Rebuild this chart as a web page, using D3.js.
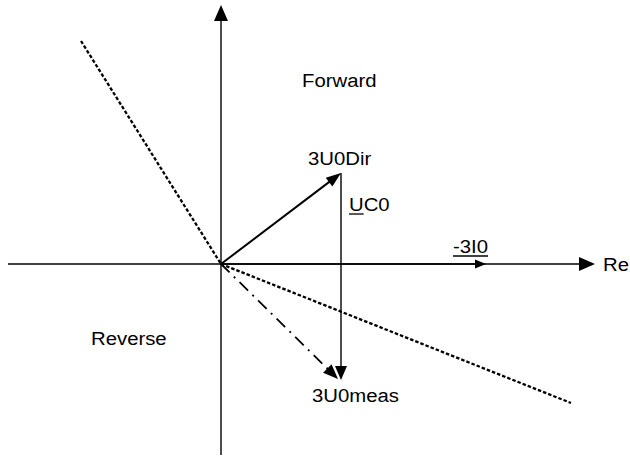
<!DOCTYPE html>
<html><head><meta charset="utf-8">
<script src="https://cdn.jsdelivr.net/npm/d3@7"></script>
<style>html,body{margin:0;padding:0;background:#fff}</style>
</head><body>
<svg id="c" width="630" height="458"></svg>
<script>
// Phasor data (units; 1 unit ≈ 100 px)
const axisX = [-2.13, 3.74];          // Re axis extent
const axisY = [-1.91, 2.59];          // Im axis extent
const U0Dir = [1.20, 0.91];           // 3U0Dir phasor
const U0meas = [1.20, -1.16];         // 3U0meas phasor
const I0neg = [2.65, 0];              // -3I0 phasor
const boundaryA = [-1.40, 2.23];      // characteristic line, upper-left end
const boundaryB = [3.50, -1.39];      // characteristic line, lower-right end
const labels = [
  {text: "Forward", pos: [0.81, 1.77]},
  {text: "Reverse", pos: [-1.30, -0.81]},
  {text: "3U0Dir", pos: [0.87, 0.99]},
  {text: "UC0", pos: [1.28, 0.53], underline: [0, 1]},
  {text: "-3I0", pos: [2.32, 0.11], underline: [0, 4]},
  {text: "3U0meas", pos: [0.91, -1.38]},
  {text: "Re", pos: [3.82, -0.07]}
];

const svg = d3.select("#c");
const x = d3.scaleLinear().domain([0, 1]).range([221, 321]);
const y = d3.scaleLinear().domain([0, 1]).range([264, 164]);

function arrowHead(tip, from, len, wid) {
  const tx = x(tip[0]), ty = y(tip[1]);
  const fx = x(from[0]), fy = y(from[1]);
  const d = Math.hypot(tx - fx, ty - fy);
  const ux = (tx - fx) / d, uy = (ty - fy) / d;
  const bx = tx - ux * len, by = ty - uy * len;
  const px = -uy * wid / 2, py = ux * wid / 2;
  svg.append("path")
    .attr("d", `M${tx},${ty}L${bx + px},${by + py}L${bx - px},${by - py}Z`)
    .attr("fill", "#000");
  return [x.invert(bx + ux * 2), y.invert(by + uy * 2)];
}
function line(a, b, w, dash) {
  const l = svg.append("line")
    .attr("x1", x(a[0])).attr("y1", y(a[1]))
    .attr("x2", x(b[0])).attr("y2", y(b[1]))
    .attr("stroke", "#000").attr("stroke-width", w);
  if (dash) l.attr("stroke-dasharray", dash);
  return l;
}

// axes
let e = arrowHead([axisX[1], 0], [0, 0], 16, 14);
line([axisX[0], 0], e, 1.4);
e = arrowHead([0, axisY[1]], [0, 0], 16, 14);
line([0, axisY[0]], e, 1.4);

// characteristic (boundary) line
line(boundaryA, [0, 0], 2.3, "3.5,2");
line([0, 0], boundaryB, 2.3, "3.5,2");

// phasors
e = arrowHead(U0Dir, [0, 0], 15, 11);
line([0, 0], e, 2);
e = arrowHead(U0meas, U0Dir, 14, 12);
line(U0Dir, e, 1.4);
const measDash = [U0meas[0] - 0.03, U0meas[1] + 0.01];
e = arrowHead(measDash, [0, 0], 15, 12);
line([0, 0], e, 1.8, "12,6,2,6");
e = arrowHead(I0neg, [0, 0], 11, 9);
line([0, 0], e, 1.6);

// labels
labels.forEach(L => {
  const g = svg.append("g")
    .attr("transform", `translate(${x(L.pos[0])},${y(L.pos[1])}) scale(1.13,1)`);
  const t = g.append("text")
    .attr("font-family", "'Liberation Sans', Arial, sans-serif")
    .attr("font-size", 18).attr("fill", "#000")
    .text(L.text);
  if (L.underline) {
    const n = t.node();
    const s = n.getStartPositionOfChar(L.underline[0]).x;
    const en = n.getEndPositionOfChar(L.underline[1] - 1).x;
    g.append("line").attr("x1", s).attr("x2", en)
      .attr("y1", 3).attr("y2", 3)
      .attr("stroke", "#000").attr("stroke-width", 1.3);
  }
});
</script>
</body></html>
